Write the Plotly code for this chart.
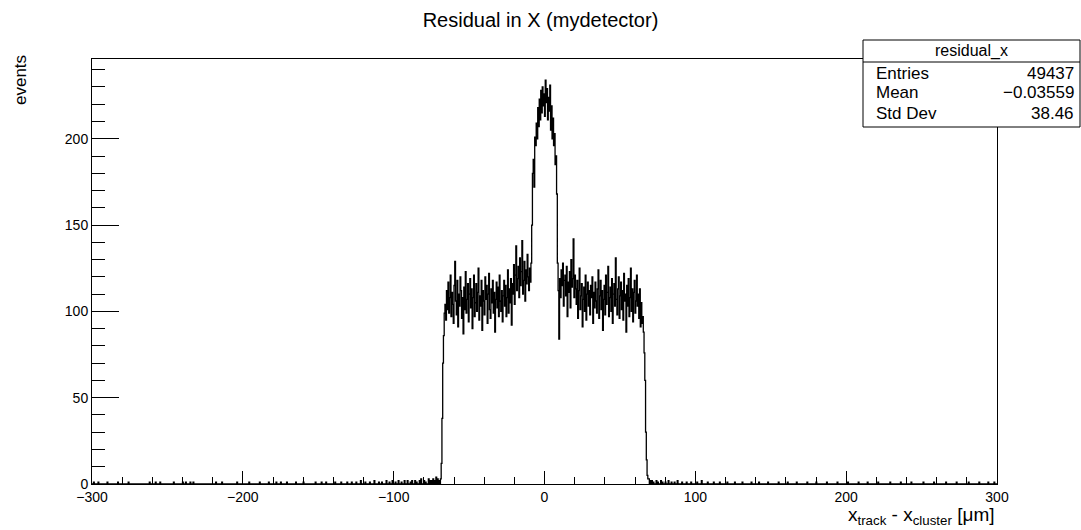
import numpy as np
import plotly.graph_objects as go

# ---------------- data ----------------
x_min, x_max, bin_w = -300.0, 300.0, 0.5

# core region: bin left edges -69.0, -68.5, ... 68.5 (0.5 um bins)
core_start = -69.0
core_counts = [
    3, 12, 38, 70, 86, 99, 104, 95, 112, 101, 117, 99, 108, 121, 97, 111, 104, 93, 115, 129,
    106, 98, 118, 91, 110, 103, 120, 112, 96, 108, 87, 114, 101, 123, 99, 107, 116, 94, 110, 119,
    102, 113, 90, 108, 121, 97, 105, 116, 100, 111, 125, 95, 109, 103, 118, 89, 112, 106, 98, 120,
    107, 115, 93, 110, 122, 101, 96, 113, 105, 118, 99, 111, 88, 107, 117, 102, 114, 97, 121, 106,
    100, 112, 94, 109, 118, 103, 115, 97, 108, 124, 99, 113, 105, 119, 92, 116, 110, 127, 104, 121,
    138, 112, 119, 126, 108, 131, 115, 123, 141, 110, 118, 129, 106, 124, 116, 133, 120, 112, 125, 117,
    128, 150, 180, 188, 172, 201, 196, 209, 200, 218, 207, 223, 211, 228, 215, 230, 219, 226, 213, 234,
    221, 229, 211, 224, 216, 231, 205, 219, 200, 212, 196, 203, 185, 190, 168, 128, 112, 84, 119, 108,
    124, 115, 128, 103, 118, 121, 109, 126, 97, 117, 111, 123, 102, 130, 114, 119, 142, 108, 121, 113,
    104, 118, 96, 112, 125, 101, 109, 116, 91, 107, 114, 100, 121, 95, 110, 117, 103, 112, 98, 115,
    108, 120, 93, 111, 102, 117, 106, 99, 113, 124, 96, 109, 118, 101, 112, 89, 107, 115, 98, 121,
    104, 111, 126, 97, 108, 114, 100, 119, 93, 110, 116, 103, 131, 107, 98, 113, 120, 96, 109, 117,
    101, 112, 95, 122, 106, 110, 88, 115, 103, 119, 97, 108, 125, 100, 113, 94, 111, 118, 99, 106,
    121, 103, 110, 96, 113, 91, 105, 93, 97, 88, 76, 60, 30, 14, 5, 3,
]

tail_left_edges = [-299, -296, -290, -283, -276, -262, -258, -255, -246, -240,
                   -238, -235, -233, -218, -214, -204, -196, -189, -183, -178,
                   -175, -171, -165, -160, -152, -148, -145, -139, -135, -131,
                   -128, -125, -122, -119, -116, -113, -110, -108, -105, -103,
                   -101, -99, -97, -95, -93, -91, -89, -88, -86, -85,
                   -83, -82, -80, -79, -77, -76, -75, -74, -73, -72, -71, -70]
tail_left_counts = [1, 1, 1, 1, 1, 1, 1, 1, 1, 1,
                    1, 1, 1, 1, 1, 1, 1, 1, 1, 1,
                    1, 1, 1, 1, 1, 1, 1, 1, 1, 1,
                    1, 1, 2, 1, 1, 2, 1, 1, 2, 1,
                    2, 1, 2, 1, 2, 2, 1, 2, 2, 1,
                    2, 3, 2, 1, 3, 2, 2, 3, 2, 4, 3, 2]

tail_right_edges = [69, 70, 71, 72, 74, 75, 77, 78, 80, 82,
                    84, 86, 88, 91, 94, 97, 101, 104, 108, 112,
                    116, 121, 126, 131, 137, 142, 148, 155, 161, 167,
                    174, 180, 187, 194, 201, 208, 214, 221, 229, 236,
                    243, 251, 258, 266, 273, 281, 288, 294, 298]
tail_right_counts = [3, 2, 2, 1, 2, 1, 2, 1, 1, 2,
                     1, 1, 2, 1, 1, 1, 1, 2, 1, 1,
                     1, 1, 1, 1, 1, 1, 1, 1, 1, 1,
                     1, 1, 1, 1, 1, 1, 1, 1, 1, 1,
                     1, 1, 1, 1, 1, 1, 1, 1, 1]

stats_name = "residual_x"
stats_labels = ["Entries", "Mean", "Std Dev"]
stats_values = ["49437", "\u22120.03559", "38.46"]

title_text = "Residual in X (mydetector)"
x_title = "x<sub>track</sub> - x<sub>cluster</sub> [\u03bcm]"
y_title = "events"
y_max = 246.2

# ---------------- build histogram ----------------
n_bins = int(round((x_max - x_min) / bin_w))
edges = x_min + bin_w * np.arange(n_bins + 1)
counts = np.zeros(n_bins)


def idx(e):
    return int(round((e - x_min) / bin_w))


for i, c in enumerate(core_counts):
    counts[idx(core_start) + i] = c
for e, c in zip(tail_left_edges, tail_left_counts):
    counts[idx(e)] = c
for e, c in zip(tail_right_edges, tail_right_counts):
    counts[idx(e)] = c

hx = np.concatenate([[edges[0]], np.repeat(edges, 2)[1:-1], [edges[-1]]])
hy = np.concatenate([[0], np.repeat(counts, 2), [0]])

FONT = "Liberation Sans, Arial, Helvetica, sans-serif"
W, H = 1081, 530
L, R, T, B = 92, 997, 59, 484


def px(xp):
    return (xp - L) / (R - L)


def py(yp):
    return (B - yp) / (B - T)


fig = go.Figure()
fig.add_trace(go.Scatter(x=hx, y=hy, mode="lines",
                         line=dict(color="black", width=1.3),
                         hoverinfo="skip", showlegend=False))

fig.update_layout(
    width=W, height=H,
    margin=dict(l=L, r=W - R, t=T, b=H - B),
    paper_bgcolor="white", plot_bgcolor="white",
    font=dict(family=FONT, color="black"),
    title=dict(text=title_text, x=540.5 / W, xref="container", xanchor="center",
               y=1 - 20 / H, yref="container", yanchor="middle",
               font=dict(size=20, family=FONT, color="black")),
    showlegend=False,
)
fig.update_xaxes(range=[x_min, x_max], showgrid=False, zeroline=False,
                 showline=True, linecolor="black", linewidth=1, mirror=True,
                 ticks="inside", ticklen=13, tickcolor="black", tickwidth=1,
                 tick0=0, dtick=100, tickfont=dict(size=14, family=FONT),
                 minor=dict(ticks="inside", ticklen=7, dtick=20, tick0=0,
                            tickcolor="black", tickwidth=1, showgrid=False))
fig.update_yaxes(range=[0, y_max], showgrid=False, zeroline=False,
                 showline=True, linecolor="black", linewidth=1, mirror=True,
                 ticks="inside", ticklen=27, tickcolor="black", tickwidth=1,
                 tick0=0, dtick=50, tickfont=dict(size=14, family=FONT),
                 minor=dict(ticks="inside", ticklen=13, dtick=10, tick0=0,
                            tickcolor="black", tickwidth=1, showgrid=False))

# axis titles
fig.add_annotation(text=y_title, xref="paper", yref="paper",
                   x=px(20), y=py(80), textangle=-90, showarrow=False,
                   xanchor="center", yanchor="middle",
                   font=dict(size=17, family=FONT, color="black"))
fig.add_annotation(text=x_title, xref="paper", yref="paper",
                   x=1, y=py(530), showarrow=False,
                   xanchor="right", yanchor="bottom",
                   font=dict(size=19, family=FONT, color="black"))

# stats box
bx0, bx1, by0, by1, bsep = 863, 1080, 40, 127, 62
fig.add_shape(type="rect", xref="paper", yref="paper",
              x0=px(bx0), x1=px(bx1), y0=py(by1), y1=py(by0),
              fillcolor="white", line=dict(color="black", width=1), layer="above")
fig.add_shape(type="line", xref="paper", yref="paper",
              x0=px(bx0), x1=px(bx1), y0=py(bsep), y1=py(bsep),
              line=dict(color="black", width=1), layer="above")
fig.add_annotation(text=stats_name, xref="paper", yref="paper",
                   x=px((bx0 + bx1) / 2), y=py(51), showarrow=False,
                   xanchor="center", yanchor="middle",
                   font=dict(size=16, family=FONT, color="black"))
row_y = [73, 93, 113]
for lab, val, yy in zip(stats_labels, stats_values, row_y):
    fig.add_annotation(text=lab, xref="paper", yref="paper",
                       x=px(874), y=py(yy), showarrow=False,
                       xanchor="left", yanchor="middle",
                       font=dict(size=17, family=FONT, color="black"))
    fig.add_annotation(text=val, xref="paper", yref="paper",
                       x=px(1076), y=py(yy), showarrow=False,
                       xanchor="right", yanchor="middle",
                       font=dict(size=17, family=FONT, color="black"))

fig.write_html("out.html")
